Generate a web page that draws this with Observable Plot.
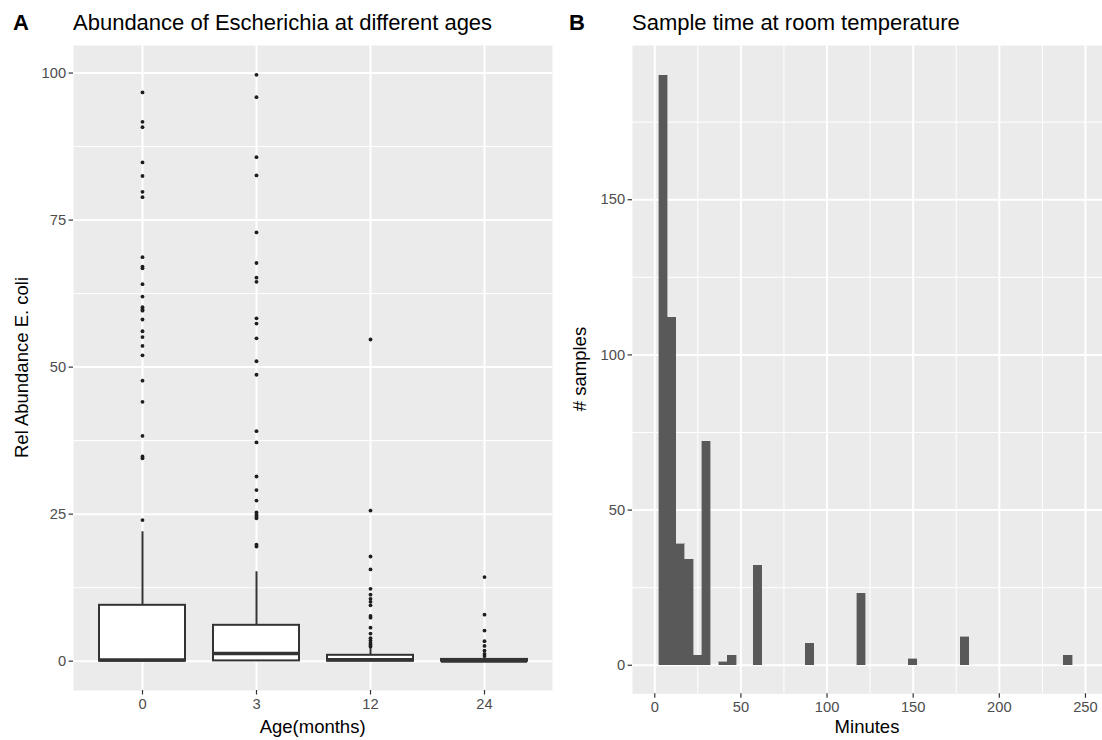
<!DOCTYPE html>
<html>
<head>
<meta charset="utf-8">
<script src="https://cdn.jsdelivr.net/npm/d3@7"></script>
<script src="https://cdn.jsdelivr.net/npm/@observablehq/plot@0.6"></script>
<style>
  html, body { margin: 0; padding: 0; background: #ffffff; }
  #wrap { position: relative; width: 1102px; height: 740px; overflow: hidden; background: #fff;
          font-family: "Liberation Sans", Arial, Helvetica, sans-serif; }
  #wrap > svg, #wrap > figure { position: absolute; top: 0; margin: 0; }
</style>
</head>
<body>
<div id="wrap"></div>
<script>
// ---------- Panel A: boxplot statistics ----------
const ages = ["0", "3", "12", "24"];
const boxLower  = [0, 0, 0, 0];
const boxQ1     = [0, 0.05, 0, 0];
const boxMedian = [0.2, 1.3, 0.25, 0.05];
const boxQ3     = [9.5, 6.1, 1.0, 0.3];
const boxUpper  = [22.0, 15.2, 2.2, 0.7];

const outliers0  = [96.7, 91.7, 90.8, 84.8, 82.5, 79.8, 78.9, 68.7, 67.1, 66.8, 64.1, 62.0, 60.2, 59.8, 59.6,
                    58.1, 56.1, 55.1, 53.6, 52.0, 47.7, 44.1, 38.3, 34.8, 34.5, 24.0];
const outliers3  = [99.7, 95.9, 85.7, 82.6, 72.9, 67.7, 65.2, 64.5, 58.3, 57.4, 54.9, 51.0, 48.7, 39.1, 37.2,
                    31.4, 29.1, 27.3, 25.3, 24.9, 24.6, 24.3, 19.8, 19.5];
const outliers12 = [54.7, 25.6, 17.8, 15.6, 12.3, 11.3, 10.6, 10.1, 9.5, 7.7, 7.4, 5.7, 4.7, 3.9, 3.5, 3.1, 2.8, 2.5];
const outliers24 = [14.3, 7.9, 5.2, 3.4, 2.6, 1.8, 1.25, 0.9];

const yTicksA      = [0, 25, 50, 75, 100];
const yMinorTicksA = [12.5, 37.5, 62.5, 87.5];

// ---------- Panel B: histogram (bin centre in minutes, count) ----------
const binCenters = [5, 10, 15, 20, 25, 30, 40, 45, 60, 90, 120, 150, 180, 240];
const binCounts  = [190, 112, 39, 34, 3, 72, 1, 3, 32, 7, 23, 2, 9, 3];
const binWidth = 5;

const xTicksB      = [0, 50, 100, 150, 200, 250];
const xMinorTicksB = [25, 75, 125, 175, 225];
const yTicksB      = [0, 50, 100, 150];
const yMinorTicksB = [25, 75, 125, 175];

// ---------- tables ----------
const boxes = ages.map((a, i) => ({age: a, lo: boxLower[i], q1: boxQ1[i], med: boxMedian[i], q3: boxQ3[i], hi: boxUpper[i]}));
const outlierLists = [outliers0, outliers3, outliers12, outliers24];
const outliers = ages.flatMap((a, i) => outlierLists[i].map(v => ({age: a, value: v})));
const bins = binCenters.map((c, i) => ({x1: c - binWidth / 2, x2: c + binWidth / 2, count: binCounts[i]}));

const FONT = '"Liberation Sans", Arial, Helvetica, sans-serif';
const PANEL = "#EBEBEB";
const TICKTEXT = "#4D4D4D";
const TICK = "#333333";
const TICKFONT = 14.7;

const wrap = document.getElementById("wrap");

// ---------- Panel A ----------
const plotA = Plot.plot({
  width: 560, height: 740,
  marginLeft: 73, marginRight: 8, marginTop: 45, marginBottom: 50,
  style: {fontFamily: FONT, background: "transparent", overflow: "visible"},
  x: {type: "band", domain: ages, paddingInner: 0.25, paddingOuter: 0.225, align: 0.5, axis: null},
  y: {domain: [-4.985, 104.685], axis: null},
  marks: [
    Plot.frame({fill: PANEL, stroke: null}),
    Plot.ruleY(yMinorTicksA, {stroke: "white", strokeWidth: 1}),
    Plot.ruleY(yTicksA, {stroke: "white", strokeWidth: 2}),
    Plot.ruleX(ages, {x: d => d, stroke: "white", strokeWidth: 2}),
    Plot.ruleX(boxes, {x: "age", y1: "q3", y2: "hi", stroke: TICK, strokeWidth: 2}),
    Plot.ruleX(boxes, {x: "age", y1: "lo", y2: "q1", stroke: TICK, strokeWidth: 2}),
    Plot.barY(boxes, {x: "age", y1: "q1", y2: "q3", fill: "white", stroke: TICK, strokeWidth: 2}),
    Plot.tickY(boxes, {x: "age", y: "med", stroke: TICK, strokeWidth: 3.6}),
    Plot.dot(outliers, {x: "age", y: "value", r: 1.9, fill: "#1e1e1e", stroke: null}),
    Plot.axisY(yTicksA, {anchor: "left", tickSize: 4.4, tickPadding: 3, fontSize: TICKFONT,
                         stroke: TICK, fill: TICKTEXT, strokeWidth: 1.2, label: null}),
    Plot.axisX(ages, {anchor: "bottom", tickSize: 4.5, tickPadding: 3.5, fontSize: TICKFONT,
                      stroke: TICK, fill: TICKTEXT, strokeWidth: 1.2, label: null})
  ]
});
plotA.style.left = "0px";
wrap.appendChild(plotA);

// ---------- Panel B ----------
const plotB = Plot.plot({
  width: 542, height: 740,
  marginLeft: 72, marginRight: 0, marginTop: 45, marginBottom: 46.7,
  style: {fontFamily: FONT, background: "transparent", overflow: "visible"},
  x: {domain: [-12.93, 259.9], axis: null},
  y: {domain: [-9.2, 199.7], axis: null},
  marks: [
    Plot.frame({fill: PANEL, stroke: null}),
    Plot.ruleY(yMinorTicksB, {stroke: "white", strokeWidth: 1}),
    Plot.ruleX(xMinorTicksB, {stroke: "white", strokeWidth: 1}),
    Plot.ruleY(yTicksB, {stroke: "white", strokeWidth: 2}),
    Plot.ruleX(xTicksB, {stroke: "white", strokeWidth: 2}),
    Plot.rectY(bins, {x1: "x1", x2: "x2", y: "count", fill: "#595959", stroke: "#595959", strokeWidth: 0.4,
                      shapeRendering: "crispEdges"}),
    Plot.axisY(yTicksB, {anchor: "left", tickSize: 4.4, tickPadding: 3, fontSize: TICKFONT,
                         stroke: TICK, fill: TICKTEXT, strokeWidth: 1.2, label: null}),
    Plot.axisX(xTicksB, {anchor: "bottom", tickSize: 4.5, tickPadding: 3.5, fontSize: TICKFONT,
                         stroke: TICK, fill: TICKTEXT, strokeWidth: 1.2, label: null})
  ]
});
plotB.style.left = "560px";
wrap.appendChild(plotB);

// ---------- titles and axis titles ----------
const svg = d3.select(wrap).append("svg")
  .attr("width", 1102).attr("height", 740)
  .style("position", "absolute").style("left", "0px").style("top", "0px")
  .style("pointer-events", "none")
  .attr("font-family", FONT);

const texts = [
  {t: "A", x: 13, y: 30, size: 22, weight: "bold", anchor: "start"},
  {t: "Abundance of Escherichia at different ages", x: 73, y: 30, size: 22, anchor: "start"},
  {t: "B", x: 569, y: 30, size: 22, weight: "bold", anchor: "start"},
  {t: "Sample time at room temperature", x: 632, y: 30, size: 22, anchor: "start"},
  {t: "Age(months)", x: 312.6, y: 733, size: 18.5, anchor: "middle"},
  {t: "Minutes", x: 867, y: 733, size: 18.5, anchor: "middle"}
];
svg.selectAll("text.t").data(texts).join("text")
  .attr("x", d => d.x).attr("y", d => d.y)
  .attr("font-size", d => d.size).attr("font-weight", d => d.weight || "normal")
  .attr("text-anchor", d => d.anchor).attr("fill", "black")
  .text(d => d.t);

const ytitles = [
  {t: "Rel Abundance E. coli", x: 28, y: 367.5},
  {t: "# samples", x: 586, y: 369}
];
svg.selectAll("text.yt").data(ytitles).join("text")
  .attr("transform", d => `translate(${d.x},${d.y}) rotate(-90)`)
  .attr("font-size", 18.5).attr("text-anchor", "middle").attr("fill", "black")
  .text(d => d.t);
</script>
</body>
</html>
